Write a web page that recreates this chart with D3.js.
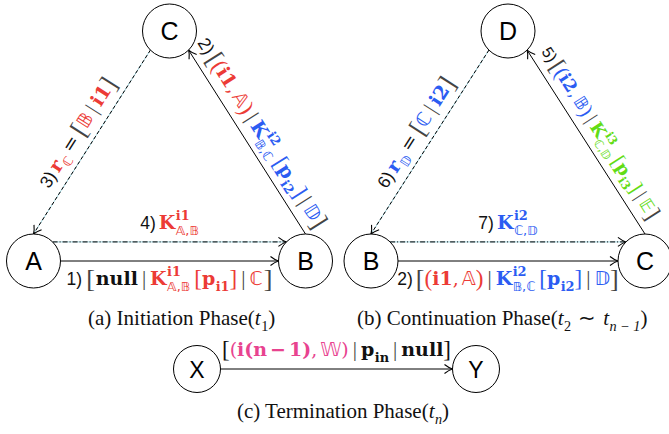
<!DOCTYPE html>
<html>
<head>
<meta charset="utf-8">
<script src="https://cdn.jsdelivr.net/npm/d3@7"></script>
<style>
  body { margin: 0; background: #fff; }
</style>
</head>
<body>
<svg id="fig" width="669" height="434"></svg>
<script>
// ---- data ----------------------------------------------------------------
const panels = ["a", "b", "c"];
// nodes of each panel, with their slot in a unit grid (col 0..1, row 0..1)
const nodesA = [{id: "A", col: 0, row: 1}, {id: "B", col: 1, row: 1}, {id: "C", col: 0.5, row: 0}];
const nodesB = [{id: "B", col: 0, row: 1}, {id: "C", col: 1, row: 1}, {id: "D", col: 0.5, row: 0}];
const nodesC = [{id: "X", col: 0, row: 0}, {id: "Y", col: 1, row: 0}];

// text segments: [text, font, colour, extras]
const s = (t, f, c, o) => Object.assign({t: t, f: f, c: c}, o || {});
const bar = c => s("|", "p", c || "g", {pl: 4, pr: 4});

const label1 = [s("1)", "s", "k", {pr: 4}), s("[", "L", "g", {pr: 1}), s("null", "b", "k"), bar(),
  s("K", "b", "r", {sup: ["i1", "b"], sub: ["𝔸,𝔹", "d"]}), s("[", "M", "r", {pl: 4}),
  s("p", "b", "r", {sub: ["i1", "b"]}), s("]", "M", "r"), bar(), s("ℂ", "d", "r"), s("]", "L", "g", {pl: 1})];
const label2 = [s("2)", "s", "k", {pr: 3}), s("[", "L", "g"), s("(", "M", "r"), s("i1", "b", "r"),
  s(",", "r", "r", {pr: 3}), s("𝔸", "d", "r"), s(")", "M", "r"), bar(),
  s("K", "b", "u", {sup: ["i2", "b"], sub: ["𝔹,ℂ", "d"]}), s("[", "M", "u", {pl: 4}),
  s("p", "b", "u", {sub: ["i2", "b"]}), s("]", "M", "u"), bar(), s("𝔻", "d", "u"), s("]", "L", "g")];
const label3 = [s("3)", "s", "k", {pr: 3}), s("r", "b", "r", {sub: ["ℂ", "d"]}), s("=", "r", "k", {pl: 4, pr: 4}),
  s("[", "L", "g"), s("𝔹", "d", "r"), bar(), s("i1", "b", "r"), s("]", "L", "g")];
const label4 = [s("4)", "s", "k", {pr: 3}), s("K", "b", "r", {sup: ["i1", "b"], sub: ["𝔸,𝔹", "d"]})];
const label5 = [s("5)", "s", "k", {pr: 3}), s("[", "L", "g"), s("(", "M", "u"), s("i2", "b", "u"),
  s(",", "r", "u", {pr: 3}), s("𝔹", "d", "u"), s(")", "M", "u"), bar(),
  s("K", "b", "n", {sup: ["i3", "b"], sub: ["ℂ,𝔻", "d"]}), s("[", "M", "n", {pl: 4}),
  s("p", "b", "n", {sub: ["i3", "b"]}), s("]", "M", "n"), bar(), s("𝔼", "d", "n"), s("]", "L", "g")];
const label6 = [s("6)", "s", "k", {pr: 3}), s("r", "b", "u", {sub: ["𝔻", "d"]}), s("=", "r", "k", {pl: 4, pr: 4}),
  s("[", "L", "g"), s("ℂ", "d", "u"), bar(), s("i2", "b", "u"), s("]", "L", "g")];
const label7 = [s("7)", "s", "k", {pr: 3}), s("K", "b", "u", {sup: ["i2", "b"], sub: ["ℂ,𝔻", "d"]})];
const label8 = [s("[", "M", "k"), s("(", "r", "m"), s("i(n", "b", "m"), s("−", "b", "m", {pl: 3, pr: 3}),
  s("1)", "b", "m"), s(",", "r", "m", {pr: 3}), s("𝕎", "d", "m"), s(")", "r", "m"), bar(),
  s("p", "b", "k", {sub: ["in", "b"]}), bar(), s("null", "b", "k"), s("]", "M", "k")];

const edgesA = [
  {from: "A", fa: "ne", to: "B", ta: "nw", style: "dashdot", side: "above", label: label4},
  {from: "A", fa: "e", to: "B", ta: "w", style: "solid", side: "below", label: label1},
  {from: "C", fa: "sw", to: "A", ta: "n", style: "dashed", side: "above", label: label3},
  {from: "B", fa: "n", to: "C", ta: "se", style: "solid", side: "above", label: label2}
];
const edgesB = [
  {from: "B", fa: "ne", to: "C", ta: "nw", style: "dashdot", side: "above", label: label7},
  {from: "B", fa: "e", to: "C", ta: "w", style: "solid", side: "below", label: label2},
  {from: "D", fa: "sw", to: "B", ta: "n", style: "dashed", side: "above", label: label6},
  {from: "C", fa: "n", to: "D", ta: "se", style: "solid", side: "above", label: label5}
];
const edgesC = [
  {from: "X", fa: "e", to: "Y", ta: "w", style: "solid", side: "above", label: label8}
];

const captionA = [s("(a) Initiation Phase(", "c", "k"), s("t", "ci", "k", {sub: ["1", "c"]}), s(")", "c", "k")];
const captionB = [s("(b) Continuation Phase(", "c", "k"), s("t", "ci", "k", {sub: ["2", "c"]}),
  s("∼", "c", "k", {pl: 7, pr: 7}), s("t", "ci", "k", {sub: ["n − 1", "ci"]}), s(")", "c", "k")];
const captionC = [s("(c) Termination Phase(", "c", "k"), s("t", "ci", "k", {sub: ["n", "ci"]}), s(")", "c", "k")];

// ---- styles / layout -----------------------------------------------------
const W = 669, H = 434;
const fonts = {
  s: {ff: "'Liberation Sans', Arial, sans-serif", fs: 17.5, fw: "normal"},
  b: {ff: "'DejaVu Serif', serif", fs: 19, fw: "bold"},
  r: {ff: "'DejaVu Serif', serif", fs: 19, fw: "normal"},
  d: {ff: "'DejaVu Sans', 'DejaVu Serif', sans-serif", fs: 19, fw: "normal"},
  L: {ff: "'Liberation Serif', serif", fs: 26, fw: "normal", dy: 2},
  M: {ff: "'Liberation Serif', serif", fs: 23, fw: "normal", dy: 1},
  p: {ff: "'Liberation Serif', serif", fs: 21, fw: "normal"},
  c: {ff: "'Liberation Serif', 'Times New Roman', serif", fs: 21, fw: "normal"},
  ci: {ff: "'Liberation Serif', 'Times New Roman', serif", fs: 21, fw: "normal", it: true}
};
const colors = {k: "#111", g: "#444", r: "#ec3b36", u: "#2b5cf2", n: "#62dc14", m: "#e8438f"};

const xScale = {
  a: d3.scaleLinear().domain([0, 1]).range([33.5, 305.5]),
  b: d3.scaleLinear().domain([0, 1]).range([371, 645]),
  c: d3.scaleLinear().domain([0, 1]).range([197, 476])
};
const yScale = {
  a: d3.scaleLinear().domain([0, 1]).range([31, 261]),
  b: d3.scaleLinear().domain([0, 1]).range([31, 261]),
  c: d3.scaleLinear().domain([0, 1]).range([369, 369])
};
const radius = {a: 27, b: 27, c: 23.5};
const nodeSets = {a: nodesA, b: nodesB, c: nodesC};
const edgeSets = {a: edgesA, b: edgesB, c: edgesC};
const anchorDeg = {n: -90, ne: -45, e: 0, se: 45, s: 90, sw: 135, w: 180, nw: -135};
const dashes = {solid: null, dashed: "3.5,2.5", dashdot: "5,2,1,2"};

const svg = d3.select("#fig");
svg.append("rect").attr("width", W).attr("height", H).attr("fill", "#fff");

svg.append("defs").append("marker")
    .attr("id", "arr")
    .attr("viewBox", "-10 -6 12 12")
    .attr("refX", 0).attr("refY", 0)
    .attr("markerWidth", 12).attr("markerHeight", 12)
    .attr("markerUnits", "userSpaceOnUse")
    .attr("orient", "auto")
  .append("path")
    .attr("d", "M-8,-4.5 Q-3.5,-1 0,0 Q-3.5,1 -8,4.5")
    .attr("fill", "none")
    .attr("stroke", "#000")
    .attr("stroke-width", 1.1);

function styleText(t, f, c, scale) {
  const st = fonts[f];
  t.attr("font-family", st.ff)
   .attr("font-size", st.fs * (scale || 1))
   .attr("font-weight", st.fw)
   .attr("font-style", st.it ? "italic" : "normal")
   .attr("fill", colors[c]);
}

// lays out segments left to right on baseline 0, returns the width
function richText(g, segs) {
  let x = 0;
  segs.forEach(sg => {
    x += sg.pl || 0;
    const t = g.append("text").attr("x", x).attr("y", fonts[sg.f].dy || 0).text(sg.t);
    styleText(t, sg.f, sg.c);
    let w = t.node().getComputedTextLength();
    let extra = 0;
    const fs = fonts[sg.f].fs;
    if (sg.sup) {
      const u = g.append("text").attr("x", x + w + 0.5).attr("y", -fs * 0.48).text(sg.sup[0]);
      styleText(u, sg.sup[1], sg.c, 0.68);
      extra = Math.max(extra, u.node().getComputedTextLength() + 0.5);
    }
    if (sg.sub) {
      const d = g.append("text").attr("x", x + w + 0.5).attr("y", fs * 0.3).text(sg.sub[0]);
      styleText(d, sg.sub[1], sg.c, 0.68);
      extra = Math.max(extra, d.node().getComputedTextLength() + 0.5);
    }
    x += w + extra + (sg.pr || 0);
  });
  return x;
}

function nodePos(p, id) {
  const n = nodeSets[p].find(d => d.id === id);
  return {x: xScale[p](n.col), y: yScale[p](n.row), r: radius[p]};
}
function anchor(n, a) {
  const ang = anchorDeg[a] * Math.PI / 180;
  return [n.x + n.r * Math.cos(ang), n.y + n.r * Math.sin(ang)];
}

panels.forEach(p => {
  const g = svg.append("g").attr("class", "panel-" + p);

  // edges
  edgeSets[p].forEach(e => {
    const [x1, y1] = anchor(nodePos(p, e.from), e.fa);
    const [x2, y2] = anchor(nodePos(p, e.to), e.ta);
    if (e.style !== "solid") {
      g.append("line")
          .attr("x1", x1).attr("y1", y1).attr("x2", x2).attr("y2", y2)
          .attr("stroke", "#9fd4de").attr("stroke-width", 1);
    }
    g.append("line")
        .attr("x1", x1).attr("y1", y1).attr("x2", x2).attr("y2", y2)
        .attr("stroke", "#000").attr("stroke-width", 1)
        .attr("stroke-dasharray", dashes[e.style])
        .attr("marker-end", "url(#arr)");

    // label along the edge, centred on its midpoint
    let ang = Math.atan2(y2 - y1, x2 - x1) * 180 / Math.PI;
    if (ang > 90) ang -= 180;
    if (ang < -90) ang += 180;
    const lg = g.append("g")
        .attr("transform", "translate(" + ((x1 + x2) / 2) + "," + ((y1 + y2) / 2) + ") rotate(" + ang + ")");
    const inner = lg.append("g");
    const w = richText(inner, e.label);
    const off = e.side === "below" ? 24 : (Math.abs(ang) > 1 ? -11 : -13);
    // shrink a little if the label pokes past the right border
    for (const k of [1, 0.97, 0.94, 0.91]) {
      inner.attr("transform", "translate(0," + off + ") scale(" + k + ") translate(" + (-w / 2) + ",0)");
      if (lg.node().getBoundingClientRect().right <= W - 2) break;
    }
  });

  // nodes
  nodeSets[p].forEach(n => {
    const pos = nodePos(p, n.id);
    g.append("circle")
        .attr("cx", pos.x).attr("cy", pos.y).attr("r", pos.r)
        .attr("fill", "#fff").attr("stroke", "#000").attr("stroke-width", 1);
    g.append("text")
        .attr("x", pos.x).attr("y", pos.y + 9)
        .attr("text-anchor", "middle")
        .attr("font-family", "'Liberation Sans', Arial, sans-serif")
        .attr("font-size", p === "c" ? 23 : 25)
        .attr("fill", "#000")
        .text(n.id);
  });
});

// captions: [segments, left edge or centre, baseline, anchored by centre?]
[[captionA, 88, 325, false], [captionB, 357, 325, false], [captionC, 343, 418, true]].forEach(([segs, x0, by, mid]) => {
  const cg = svg.append("g");
  const w = richText(cg, segs);
  cg.attr("transform", "translate(" + (mid ? x0 - w / 2 : x0) + "," + by + ")");
});
</script>
</body>
</html>
